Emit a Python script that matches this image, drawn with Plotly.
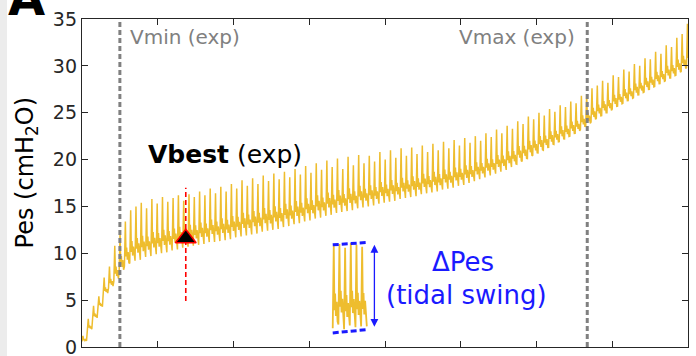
import plotly.graph_objects as go

# ---------------- data ----------------
breath_step = 0.07
trough = [0.6, 1.8, 3.0, 4.2, 5.6, 6.3, 7.0, 7.9, 8.6, 8.9,
          9.2, 9.3, 9.6, 9.7, 9.9, 10.0, 10.1, 10.3, 10.4, 10.6,
          10.7, 10.8, 10.9, 11.0, 11.2, 11.2, 11.3, 11.4, 11.5, 11.7,
          11.8, 11.9, 12.0, 12.1, 12.3, 12.4, 12.5, 12.6, 12.8, 12.9,
          13.1, 13.2, 13.4, 13.5, 13.7, 13.8, 14.0, 14.1, 14.3, 14.4,
          14.5, 14.6, 14.8, 14.9, 15.0, 15.1, 15.3, 15.4, 15.5, 15.6,
          15.8, 15.9, 16.0, 16.1, 16.3, 16.4, 16.5, 16.6, 16.8, 16.9,
          17.0, 17.2, 17.3, 17.5, 17.7, 17.9, 18.1, 18.3, 18.5, 18.7,
          18.9, 19.2, 19.5, 19.8, 20.1, 20.4, 20.7, 21.0, 21.3, 21.6,
          21.9, 22.2, 22.5, 22.8, 23.2, 23.6, 24.0, 24.4, 24.7, 25.0,
          25.4, 25.7, 26.0, 26.3, 26.6, 26.9, 27.2, 27.5, 27.8, 28.1,
          28.4, 28.7, 29.0, 29.4, 29.8]
peak = [1.2, 3.0, 4.4, 5.4, 7.4, 8.6, 10.8, 12.2, 13.4, 14.6,
        15.0, 15.4, 14.8, 15.8, 15.3, 16.0, 15.5, 15.9, 16.2, 15.6,
        16.3, 16.0, 16.6, 16.2, 16.9, 16.4, 17.1, 16.6, 17.4, 16.9,
        17.8, 17.2, 18.0, 17.4, 18.3, 17.7, 18.5, 17.9, 18.7, 18.1,
        19.0, 18.4, 19.3, 18.6, 19.6, 18.9, 19.9, 19.2, 20.1, 19.0,
        20.3, 19.4, 20.5, 19.6, 20.4, 19.8, 20.8, 20.0, 21.0, 20.2,
        21.2, 20.4, 21.3, 20.6, 21.5, 20.8, 21.7, 21.0, 21.9, 21.2,
        22.1, 21.5, 22.3, 21.8, 22.5, 22.0, 22.8, 22.4, 23.2, 22.8,
        23.6, 23.3, 24.1, 23.8, 24.6, 24.3, 25.0, 24.7, 25.4, 25.1,
        25.8, 25.6, 26.2, 26.0, 26.8, 27.0, 27.6, 27.9, 28.4, 28.2,
        29.0, 28.8, 29.6, 29.4, 30.2, 30.0, 30.8, 30.7, 31.5, 31.3,
        32.2, 32.0, 33.0, 33.4, 34.5]

# inset (tidal swing illustration)
inset_x = [3.31, 3.385, 3.46, 3.535, 3.61, 3.685]
inset_trough = [2.0, 2.4, 1.9, 2.3, 2.1, 2.2]
inset_peak = [10.8, 11.0, 10.6, 11.1, 10.9, 10.7]
inset_step = 0.075

vmin_x, vmax_x = 0.5, 6.67
vbest_x, vbest_y = 1.37, 11.6
vbest_line = [4.9, 17.0]
swing_top = [10.9, 11.15]
swing_bot = [1.5, 1.85]
swing_arrow_x = 3.86
swing_arrow = [2.0, 10.9]

y_ticks = [0, 5, 10, 15, 20, 25, 30, 35]

# waveform shape of one breath (fractions of step / of swing) - styling only
SHAPE_T = [0.0, 0.18, 0.30, 0.42, 0.55, 0.70, 0.85]
SHAPE_A = [0.0, 1.0, 0.22, 0.42, 0.15, 0.32, 0.08]


def waveform(xs, lows, highs, step):
    wx, wy = [], []
    for x0, lo, hi in zip(xs, lows, highs):
        amp = hi - lo
        for ft, fa in zip(SHAPE_T, SHAPE_A):
            wx.append(x0 + ft * step)
            wy.append(lo + fa * amp)
    wx.append(xs[-1] + step)
    wy.append(lows[-1])
    return wx, wy


bx = [i * breath_step for i in range(len(trough))]
mx, my = waveform(bx, trough, peak, breath_step)
ix, iy = waveform(inset_x, inset_trough, inset_peak, inset_step)

YEL = "#EEBD2E"
BLUE = "#1a1aff"
GRAY = "#808080"
AX = "#262626"
FONT = "DejaVu Sans"

fig = go.Figure()
fig.add_trace(go.Scatter(x=mx, y=my, mode="lines",
                         line=dict(color=YEL, width=1.5), hoverinfo="skip"))
fig.add_trace(go.Scatter(x=ix, y=iy, mode="lines",
                         line=dict(color=YEL, width=1.8), hoverinfo="skip"))
for vx in (vmin_x, vmax_x):
    fig.add_trace(go.Scatter(x=[vx, vx], y=[0, 35], mode="lines",
                             line=dict(color=GRAY, width=3, dash="5px,3px")))
fig.add_trace(go.Scatter(x=[vbest_x, vbest_x], y=vbest_line, mode="lines",
                         line=dict(color="#ff0000", width=1.6, dash="5px,3px")))
fig.add_trace(go.Scatter(x=[vbest_x], y=[vbest_y], mode="markers",
                         marker=dict(symbol="triangle-up", size=18, color="black",
                                     line=dict(color="#ff0000", width=1.5))))
fig.add_trace(go.Scatter(x=[inset_x[0], inset_x[-1] + inset_step], y=swing_top,
                         mode="lines", line=dict(color=BLUE, width=3, dash="6px,3px")))
fig.add_trace(go.Scatter(x=[inset_x[0], inset_x[-1] + inset_step], y=swing_bot,
                         mode="lines", line=dict(color=BLUE, width=3, dash="6px,3px")))

ann = [
    dict(x=swing_arrow_x, y=swing_arrow[1], ax=swing_arrow_x, ay=swing_arrow[0],
         xref="x", yref="y", axref="x", ayref="y", text="", showarrow=True,
         arrowhead=2, startarrowhead=2, arrowside="end+start", arrowsize=1.2,
         arrowwidth=1.3, arrowcolor=BLUE),
    dict(x=0.607, y=33.1, xref="x", yref="y", text="Vmin (exp)", showarrow=False,
         xanchor="left", yanchor="middle", font=dict(family=FONT, size=20, color=GRAY)),
    dict(x=6.535, y=33.1, xref="x", yref="y", text="Vmax (exp)", showarrow=False,
         xanchor="right", yanchor="middle", font=dict(family=FONT, size=20, color=GRAY)),
    dict(x=0.85, y=20.5, xref="x", yref="y", text="<b>Vbest</b> (exp)", showarrow=False,
         xanchor="left", yanchor="middle", font=dict(family=FONT, size=25, color="black")),
    dict(x=5.03, y=9.1, xref="x", yref="y", text="ΔPes", showarrow=False,
         xanchor="center", yanchor="middle", font=dict(family=FONT, size=26, color=BLUE)),
    dict(x=5.07, y=5.5, xref="x", yref="y", text="(tidal swing)", showarrow=False,
         xanchor="center", yanchor="middle", font=dict(family=FONT, size=26, color=BLUE)),
    dict(x=-0.092, y=0.53, xref="paper", yref="paper", text="Pes (cmH<sub>2</sub>O)",
         showarrow=False, textangle=-90, xanchor="center", yanchor="middle",
         font=dict(family=FONT, size=24, color="black")),
    dict(x=-0.125, y=1.065, xref="paper", yref="paper", text="<b>A</b>", showarrow=False,
         xanchor="left", yanchor="middle", font=dict(family=FONT, size=48, color="black")),
]

fig.update_layout(
    width=696, height=356,
    margin=dict(l=82, r=8, t=19, b=9),
    paper_bgcolor="white", plot_bgcolor="white",
    showlegend=False,
    annotations=ann,
    shapes=[dict(type="rect", xref="paper", yref="paper", x0=-0.2, x1=-0.1238,
                 y0=-0.2, y1=1.2, fillcolor="#ececec", line=dict(width=0), layer="below")],
    font=dict(family=FONT, color=AX),
)
fig.update_xaxes(range=[0, 8], dtick=1, tick0=0, ticks="inside", ticklen=6,
                 tickcolor=AX, showticklabels=False, showgrid=False, zeroline=False,
                 showline=True, linecolor=AX, linewidth=1.3, mirror="ticks",
                 automargin=False)
fig.update_yaxes(range=[0, 35], tickvals=y_ticks, ticks="inside", ticklen=6,
                 tickcolor=AX, showgrid=False, zeroline=False, showline=True,
                 linecolor=AX, linewidth=1.3, mirror="ticks", ticklabeloverflow="allow",
                 automargin=False, tickfont=dict(family=FONT, size=19, color=AX))

fig.write_html("out.html", config={"displayModeBar": False},
               post_script="document.body.style.margin='0';document.body.style.overflow='hidden';")
